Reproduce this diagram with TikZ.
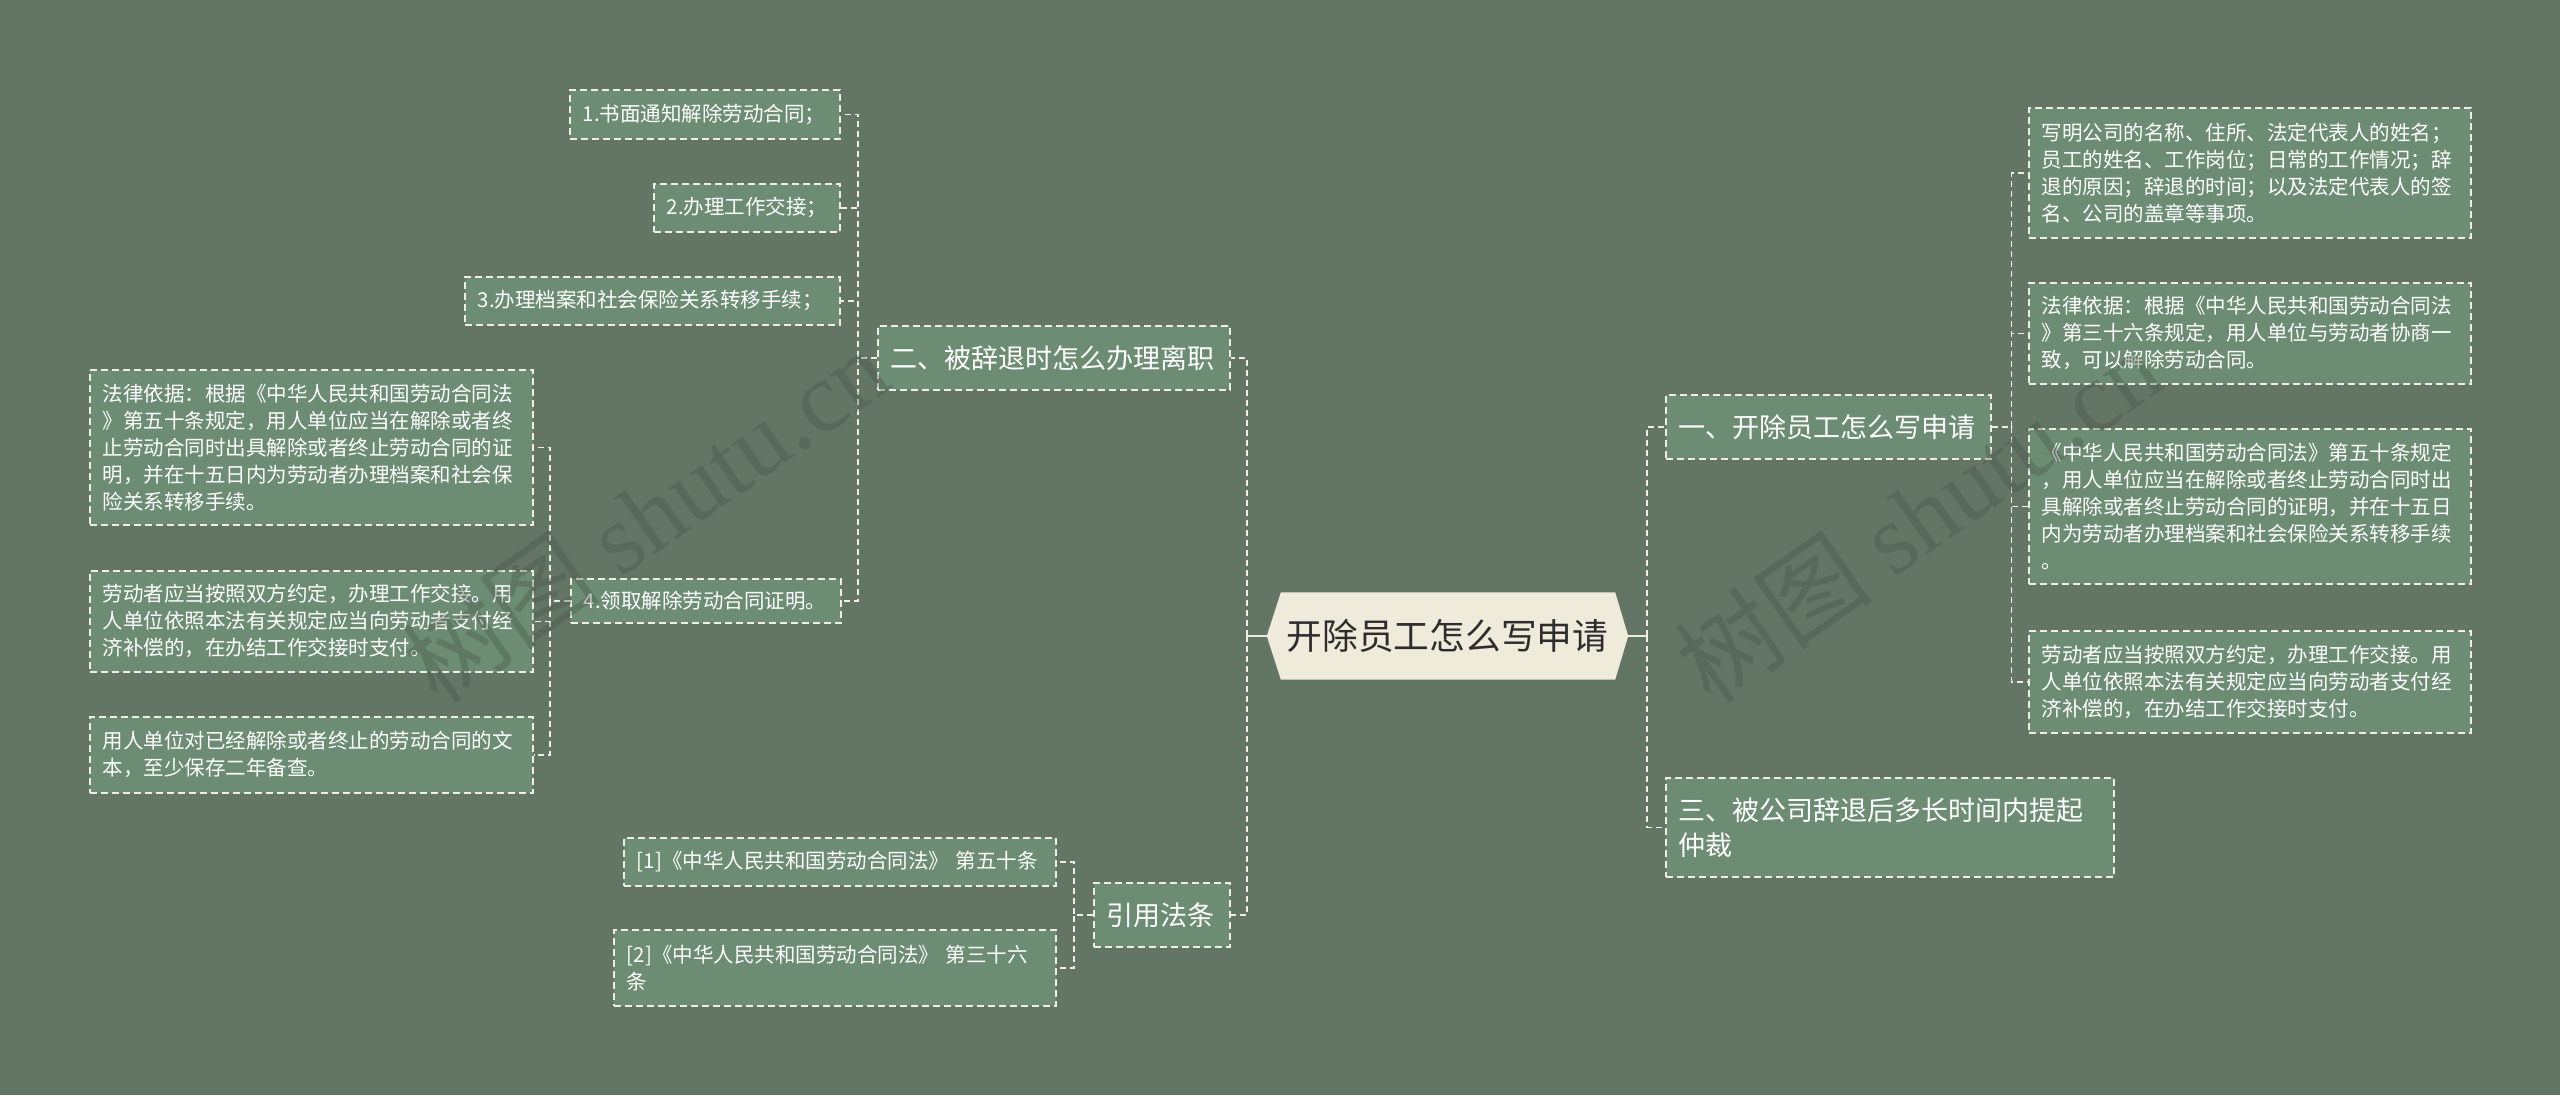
\documentclass[tikz,border=0pt]{standalone}
\usepackage{fontspec}
\setmainfont{Liberation Sans}
\newfontfamily\cjk{Noto Sans CJK SC}
\newfontfamily\wmserif{Liberation Serif}
\usetikzlibrary{backgrounds}
\definecolor{bgc}{RGB}{99,117,100}
\definecolor{boxc}{RGB}{108,141,116}
\definecolor{linec}{RGB}{240,238,222}
\definecolor{rootc}{RGB}{239,235,218}
\definecolor{roottext}{RGB}{45,45,45}
\definecolor{wmc}{RGB}{70,82,72}
\begin{document}
\begin{tikzpicture}[x=1pt,y=-1pt,
  box/.style={draw=linec, fill=boxc, line width=1.6pt, dash pattern=on 7pt off 4pt,
    text=white, font=\cjk\fontsize{20.5}{27}\selectfont, align=left,
    inner xsep=13pt, inner ysep=0pt, anchor=north west},
  head/.style={box, font=\cjk\fontsize{27}{35}\selectfont},
  rootnode/.style={text=roottext, font=\cjk\fontsize{35.7}{40}\selectfont,
    minimum width=361pt, minimum height=87pt, inner sep=0pt},
  conn/.style={draw=linec, line width=1.6pt, dash pattern=on 6pt off 4pt},
  rootconn/.style={draw=linec, line width=2.6pt},
  wm/.style={text=wmc, opacity=0.35, font=\cjk\fontsize{100}{100}\selectfont, rotate=35}
]
\begin{scope}[on background layer]
\fill[bgc] (0,0) rectangle (2560,1095);
\end{scope}
\useasboundingbox (0,0) rectangle (2560,1095);

% root
\node[rootnode] (root) at (1447.5,636) {开除员工怎么写申请};
\begin{scope}[on background layer]
\fill[rootc] (root.west) -- ([xshift=14pt]root.north west) -- ([xshift=-13pt]root.north east)
  -- (root.east) -- ([xshift=-13pt]root.south east) -- ([xshift=14pt]root.south west) -- cycle;
\end{scope}

% right side
\node[head, text width=299pt, minimum height=64pt] (n1) at (1665,394) {一、开除员工怎么写申请};
\node[head, text width=422pt, minimum height=99pt] (n3) at (1665,777) {三、被公司辞退后多长时间内提起\\仲裁};

\node[box, text width=416pt, minimum height=130pt] (r1) at (2028,107) {写明公司的名称、住所、法定代表人的姓名；\\员工的姓名、工作岗位；日常的工作情况；辞\\退的原因；辞退的时间；以及法定代表人的签\\名、公司的盖章等事项。};
\node[box, text width=416pt, minimum height=101pt] (r2) at (2028,282) {法律依据：根据《中华人民共和国劳动合同法\\》第三十六条规定，用人单位与劳动者协商一\\致，可以解除劳动合同。};
\node[box, text width=416pt, minimum height=155pt] (r3) at (2028,428) {《中华人民共和国劳动合同法》第五十条规定\\，用人单位应当在解除或者终止劳动合同时出\\具解除或者终止劳动合同的证明，并在十五日\\内为劳动者办理档案和社会保险关系转移手续\\。};
\node[box, text width=416pt, minimum height=102pt] (r4) at (2028,630) {劳动者应当按照双方约定，办理工作交接。用\\人单位依照本法有关规定应当向劳动者支付经\\济补偿的，在办结工作交接时支付。};

% left side
\node[head, text width=326pt, minimum height=64pt] (n2) at (877,325) {二、被辞退时怎么办理离职};
\node[head, text width=110pt, minimum height=64pt] (ref) at (1093,882) {引用法条};

\node[box, text width=244pt, minimum height=49pt] (l1) at (569,89) {1.书面通知解除劳动合同；};
\node[box, text width=160pt, minimum height=48pt] (l2) at (653,183) {2.办理工作交接；};
\node[box, text width=349pt, minimum height=48pt] (l3) at (464,276) {3.办理档案和社会保险关系转移手续；};
\node[box, text width=244pt, minimum height=44pt] (n4) at (570,578) {4.领取解除劳动合同证明。};

\node[box, text width=417pt, minimum height=155pt] (la) at (89,369) {法律依据：根据《中华人民共和国劳动合同法\\》第五十条规定，用人单位应当在解除或者终\\止劳动合同时出具解除或者终止劳动合同的证\\明，并在十五日内为劳动者办理档案和社会保\\险关系转移手续。};
\node[box, text width=417pt, minimum height=101pt] (lb) at (89,570) {劳动者应当按照双方约定，办理工作交接。用\\人单位依照本法有关规定应当向劳动者支付经\\济补偿的，在办结工作交接时支付。};
\node[box, text width=417pt, minimum height=76pt] (lc) at (89,716) {用人单位对已经解除或者终止的劳动合同的文\\本，至少保存二年备查。};

\node[box, text width=406pt, minimum height=48pt] (c1) at (623,837) {[1]《中华人民共和国劳动合同法》 第五十条};
\node[box, text width=416pt, minimum height=76pt] (c2) at (613,929) {[2]《中华人民共和国劳动合同法》 第三十六\\条};

% connectors from root
\coordinate (rR) at ([xshift=19pt]root.east);
\coordinate (rL) at ([xshift=-20pt]root.west);
\draw[rootconn] (root.east) -- (rR);
\draw[rootconn] (root.west) -- (rL);
\draw[conn] (rR) |- (n1.west);
\draw[conn] (rR) |- (n3.west);
\draw[conn] (rL) |- (n2.east);
\draw[conn] (rL) |- (ref.east);

% n1 children
\foreach \c in {r1,r2,r3,r4}
  \draw[conn] (n1.east) -- ++(20,0) |- (\c.west);
% n2 children
\foreach \c in {l1,l2,l3,n4}
  \draw[conn] (n2.west) -- ++(-19,0) |- (\c.east);
% n4 children
\foreach \c in {la,lb,lc}
  \draw[conn] (n4.west) -- ++(-20,0) |- (\c.east);
% ref children
\foreach \c in {c1,c2}
  \draw[conn] (ref.west) -- ++(-19,0) |- (\c.east);

% watermarks
\node[wm] (wm1) at (645,515) {树图 {\wmserif shutu.cn}};
\node[wm] (wm2) at (1918,515) {树图 {\wmserif shutu.cn}};
\end{tikzpicture}
\end{document}
